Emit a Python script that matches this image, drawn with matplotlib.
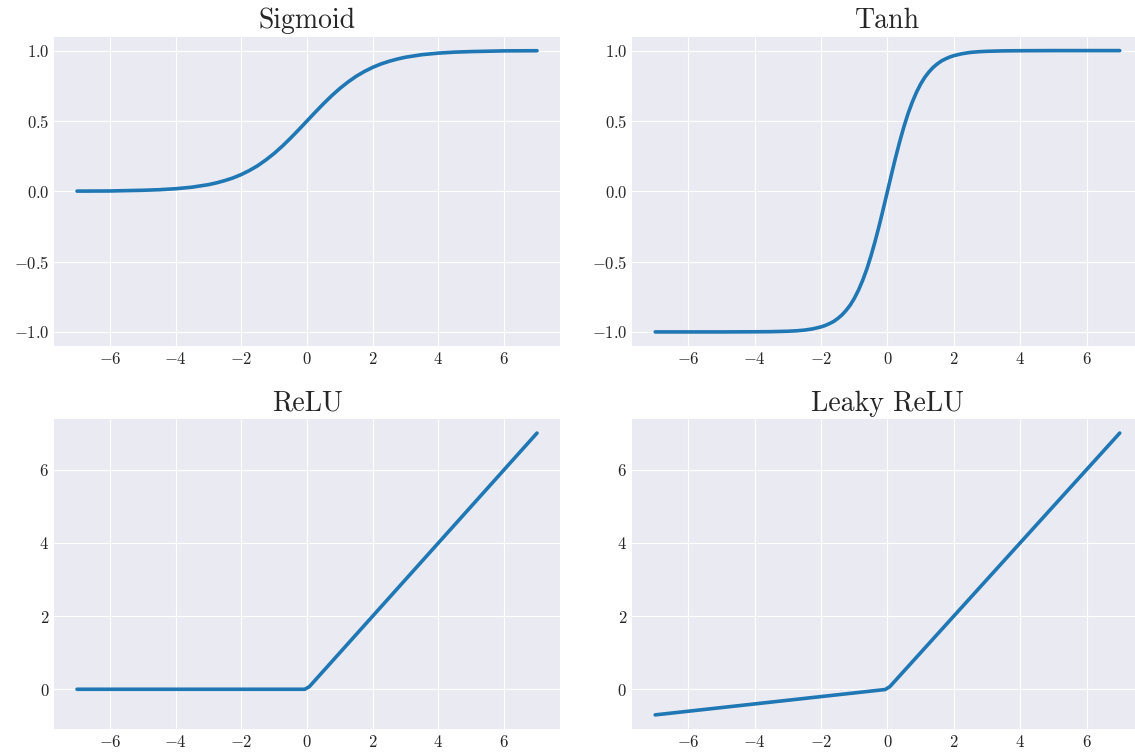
import matplotlib
matplotlib.use("Agg")
import matplotlib.pyplot as plt

# values
sig_x = [-7, -6, -5, -4.5, -4, -3.5, -3, -2.75, -2.5, -2.25, -2, -1.75, -1.5, -1.25, -1, -0.75, -0.5, -0.25, 0,
         0.25, 0.5, 0.75, 1, 1.25, 1.5, 1.75, 2, 2.25, 2.5, 2.75, 3, 3.5, 4, 4.5, 5, 6, 7]
sig_y = [0.001, 0.002, 0.007, 0.011, 0.018, 0.029, 0.047, 0.060, 0.076, 0.095, 0.119, 0.148, 0.182, 0.223, 0.269,
         0.321, 0.378, 0.438, 0.5,
         0.562, 0.622, 0.679, 0.731, 0.777, 0.818, 0.852, 0.881, 0.905, 0.924, 0.940, 0.953, 0.971, 0.982, 0.989,
         0.993, 0.998, 0.999]

tanh_x = [-7, -5, -4, -3.5, -3, -2.75, -2.5, -2.25, -2, -1.875, -1.75, -1.625, -1.5, -1.375, -1.25, -1.125, -1,
          -0.875, -0.75, -0.625, -0.5, -0.375, -0.25, -0.125, 0,
          0.125, 0.25, 0.375, 0.5, 0.625, 0.75, 0.875, 1, 1.125, 1.25, 1.375, 1.5, 1.625, 1.75, 1.875, 2,
          2.25, 2.5, 2.75, 3, 3.5, 4, 5, 7]
tanh_y = [-1.0, -1.0, -0.999, -0.998, -0.995, -0.992, -0.987, -0.978, -0.964, -0.954, -0.941, -0.926, -0.905,
          -0.880, -0.848, -0.810, -0.762, -0.704, -0.635, -0.555, -0.462, -0.358, -0.245, -0.124, 0.0,
          0.124, 0.245, 0.358, 0.462, 0.555, 0.635, 0.704, 0.762, 0.810, 0.848, 0.880, 0.905, 0.926, 0.941,
          0.954, 0.964, 0.978, 0.987, 0.992, 0.995, 0.998, 0.999, 1.0, 1.0]

relu_x = [-7, -0.07, 0.07, 7]
relu_y = [0, 0, 0.07, 7]

leaky_x = [-7, -0.07, 0.07, 7]
leaky_y = [-0.7, -0.007, 0.07, 7]

titles = ["Sigmoid", "Tanh", "ReLU", "Leaky ReLU"]

plt.style.use("seaborn-v0_8-darkgrid")
plt.rcParams["font.family"] = "serif"
plt.rcParams["font.serif"] = ["cmr10"]
plt.rcParams["mathtext.fontset"] = "cm"
plt.rcParams["axes.formatter.use_mathtext"] = True
plt.rcParams["text.color"] = ".15"

fig, axes = plt.subplots(2, 2, figsize=(11.35, 7.53), dpi=100)

# axes boxes measured on the reference (the right column runs past the edge)
col_pos = [(0.0476, 0.4458), (0.5568, 0.4502)]
row_pos = [(0.5405, 0.411), (0.0319, 0.4117)]
for i in range(2):
    for j in range(2):
        axes[i, j].set_position([col_pos[j][0], row_pos[i][0], col_pos[j][1], row_pos[i][1]])

series = [(sig_x, sig_y), (tanh_x, tanh_y), (relu_x, relu_y), (leaky_x, leaky_y)]
for ax, (x, y), title in zip(axes.flat, series, titles):
    ax.plot(x, y, color="#1f77b4", linewidth=2.6)
    ax.set_title(title, fontsize=20)
    ax.tick_params(labelsize=12)
    ax.set_xticks([-6, -4, -2, 0, 2, 4, 6])
    ax.set_xlim(-7.7, 7.7)

for ax in axes[0]:
    ax.set_ylim(-1.1, 1.1)
    ax.set_yticks([-1.0, -0.5, 0.0, 0.5, 1.0])
for ax in axes[1]:
    ax.set_ylim(-1.085, 7.385)
    ax.set_yticks([0, 2, 4, 6])

fig.savefig("out.png", dpi=100)
